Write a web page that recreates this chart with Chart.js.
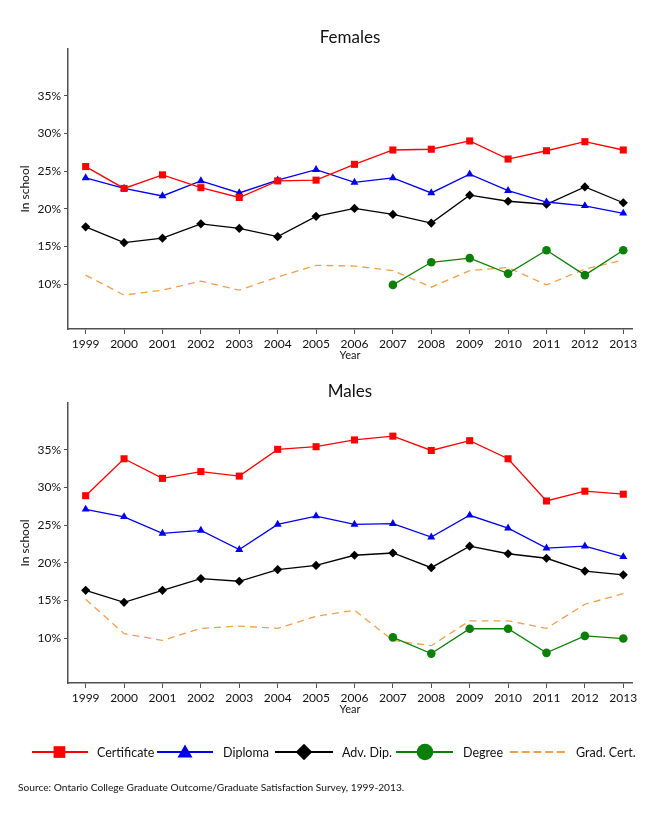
<!DOCTYPE html>
<html>
<head>
<meta charset="utf-8">
<script src="https://cdn.jsdelivr.net/npm/chart.js@4.4.1/dist/chart.umd.min.js"></script>
<style>
html,body{margin:0;padding:0;background:#fff;width:650px;height:813px;overflow:hidden;font-family:Lato,sans-serif;}
.box{position:absolute;left:0;width:650px;height:362px;}
#c1box{top:0;}
#c2box{top:354px;}
#legend{position:absolute;left:0;top:730px;}
#source{position:absolute;left:18px;top:781px;font-size:10.2px;color:#111;font-family:Lato,sans-serif;white-space:nowrap;}
</style>
</head>
<body>
<div class="box" id="c1box"><canvas id="c1"></canvas></div>
<div class="box" id="c2box"><canvas id="c2"></canvas></div>
<svg id="legend" width="650" height="45" xmlns="http://www.w3.org/2000/svg" font-family="Lato, sans-serif" font-size="12.5" fill="#111">
  <line x1="32" y1="22" x2="88" y2="22" stroke="#ff0000" stroke-width="2"/>
  <rect x="53.6" y="16.2" width="11.7" height="11.7" fill="#ff0000"/>
  <text x="97" y="26.5">Certificate</text>
  <line x1="157" y1="22" x2="213" y2="22" stroke="#0000ee" stroke-width="2"/>
  <polygon points="185,14.5 192.5,27.5 177.5,27.5" fill="#0000ee"/>
  <text x="223" y="26.5">Diploma</text>
  <line x1="275" y1="22" x2="333" y2="22" stroke="#000" stroke-width="2"/>
  <polygon points="304,13.7 312.3,22 304,30.3 295.7,22" fill="#000"/>
  <text x="342" y="26.5">Adv. Dip.</text>
  <line x1="396" y1="22" x2="453" y2="22" stroke="#0a800a" stroke-width="2"/>
  <circle cx="425" cy="22" r="8.3" fill="#0a800a"/>
  <text x="463" y="26.5">Degree</text>
  <line x1="510" y1="22" x2="568" y2="22" stroke="#f0a04b" stroke-width="2" stroke-dasharray="8,3.7"/>
  <text x="576" y="26.5">Grad. Cert.</text>
</svg>
<div id="source">Source: Ontario College Graduate Outcome/Graduate Satisfaction Survey, 1999-2013.</div>
<script>
// ---- Data ----
const years = [1999,2000,2001,2002,2003,2004,2005,2006,2007,2008,2009,2010,2011,2012,2013];
const yTickValues = [10,15,20,25,30,35];

const femCert = [25.6,22.7,24.5,22.8,21.5,23.7,23.8,25.9,27.8,27.9,29.0,26.6,27.7,28.9,27.8];
const femDip  = [24.1,22.7,21.7,23.7,22.1,23.8,25.2,23.5,24.1,22.1,24.6,22.4,20.9,20.4,19.4];
const femAdv  = [17.6,15.5,16.1,18.0,17.4,16.3,19.0,20.05,19.25,18.1,21.8,21.0,20.6,22.9,20.8];
const femDeg  = [null,null,null,null,null,null,null,null,9.9,12.9,13.45,11.4,14.5,11.2,14.5];
const femGrad = [11.2,8.55,9.2,10.4,9.2,10.95,12.5,12.4,11.8,9.6,11.8,12.2,9.9,12.0,13.2];

const malCert = [28.9,33.8,31.2,32.1,31.5,35.05,35.4,36.3,36.8,34.9,36.2,33.8,28.2,29.5,29.1];
const malDip  = [27.1,26.1,23.9,24.3,21.75,25.1,26.2,25.1,25.2,23.4,26.3,24.6,21.95,22.2,20.8];
const malAdv  = [16.35,14.75,16.35,17.9,17.55,19.1,19.65,21.0,21.3,19.35,22.2,21.2,20.6,18.9,18.4];
const malDeg  = [null,null,null,null,null,null,null,null,10.1,7.95,11.25,11.25,8.05,10.3,9.95];
const malGrad = [15.15,10.6,9.7,11.3,11.6,11.3,12.9,13.7,9.7,9.0,12.3,12.3,11.3,14.5,15.9];

// ---- Styles ----
const styles = {
  cert: {label:'Certificate', color:'#ff0000', point:'rect', r:5},
  dip:  {label:'Diploma', color:'#0000ee', point:'triangle', r:4.6},
  adv:  {label:'Adv. Dip.', color:'#000000', point:'rectRot', r:4.6},
  deg:  {label:'Degree', color:'#0a800a', point:'circle', r:4.3},
  grad: {label:'Grad. Cert.', color:'#f0a04b', point:false, r:0, dash:[7,5]}
};

const xMin = 1998.54, xMax = 2013.227, yMin = 4.05, yMax = 41.2;
const axisColor = '#505050';
const txtColor = '#111';

function ds(st, values){
  return {
    label: st.label,
    data: years.map((yr,i)=>({x:yr, y:values[i]})),
    borderColor: st.color, backgroundColor: st.color,
    borderWidth: 1.3, borderDash: st.dash || [],
    pointStyle: st.point || 'circle', pointRadius: st.r, pointHoverRadius: st.r,
    pointBorderWidth: 0, tension: 0, spanGaps: false, fill: false
  };
}

function makeChart(id, title, sets){
  return new Chart(document.getElementById(id), {
    type: 'line',
    data: {datasets: sets},
    options: {
      animation: false, responsive: true, maintainAspectRatio: false,
      layout: {padding: {left: 0, right: 18, top: 0, bottom: 0}},
      plugins: {
        legend: {display: false}, tooltip: {enabled: false},
        title: {display: true, text: title, fullSize: false, color: txtColor,
                font: {family: 'Lato', size: 17, weight: 'normal'}, padding: {top: 27, bottom: 1.6}}
      },
      scales: {
        x: {
          type: 'linear', min: xMin, max: xMax,
          afterFit(s){ s.height = 33; },
          afterBuildTicks(s){ s.ticks = years.map(v => ({value: v})); },
          ticks: {autoSkip: false, maxRotation: 0, padding: 3, color: txtColor,
                  font: {family: 'Lato', size: 12}, callback: v => String(v)},
          grid: {display: true, drawOnChartArea: false, drawTicks: true, tickLength: 5, color: axisColor, lineWidth: 1},
          border: {display: true, color: axisColor, width: 1.5},
          title: {display: true, text: 'Year', color: txtColor, font: {family: 'Lato', size: 11}, padding: {top: 0, bottom: 0}}
        },
        y: {
          type: 'linear', min: yMin, max: yMax,
          afterFit(s){ s.width = 68; },
          afterBuildTicks(s){ s.ticks = yTickValues.map(v => ({value: v})); },
          ticks: {padding: 3, color: txtColor, font: {family: 'Lato', size: 12}, callback: v => v + '%'},
          grid: {display: true, drawOnChartArea: false, drawTicks: true, tickLength: 4, color: axisColor, lineWidth: 1},
          border: {display: true, color: axisColor, width: 1.5},
          title: {display: true, text: 'In school', color: txtColor, font: {family: 'Lato', size: 12}, padding: {top: 18, bottom: 0}}
        }
      }
    }
  });
}

makeChart('c1', 'Females', [
  ds(styles.cert, femCert), ds(styles.dip, femDip), ds(styles.adv, femAdv),
  ds(styles.deg, femDeg), ds(styles.grad, femGrad)
]);
makeChart('c2', 'Males', [
  ds(styles.cert, malCert), ds(styles.dip, malDip), ds(styles.adv, malAdv),
  ds(styles.deg, malDeg), ds(styles.grad, malGrad)
]);
</script>
</body>
</html>
